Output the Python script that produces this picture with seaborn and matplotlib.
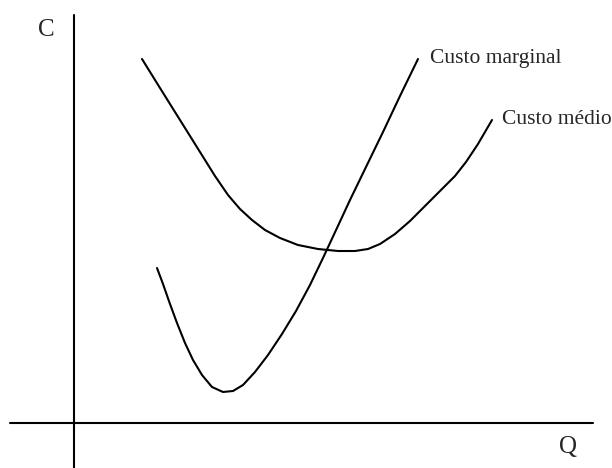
import matplotlib
matplotlib.use('Agg')
import matplotlib.pyplot as plt
import seaborn as sns
import pandas as pd

# Cost curves (Q = quantity, C = cost, arbitrary units)
q_medio = [68, 86, 106, 126, 141, 154, 166, 178, 191, 206, 224, 244, 264, 281, 294, 306, 321, 336, 351, 366, 381, 392, 404, 418]
c_medio = [364, 335, 303, 271, 247, 228, 214, 203, 193, 185, 178, 174, 172, 172, 174, 179, 189, 202, 217, 232, 247, 261, 279, 303]

q_marginal = [83, 89, 96, 103, 111, 119, 128, 138, 149, 159, 169, 181, 194, 208, 222, 236, 249, 263, 276, 292, 309, 326, 344]
c_marginal = [155, 139, 119, 100, 80, 63, 48, 36, 31, 32, 38, 51, 68, 89, 112, 138, 165, 195, 223, 256, 291, 327, 364]

medio = pd.DataFrame({'Q': q_medio, 'C': c_medio})
marginal = pd.DataFrame({'Q': q_marginal, 'C': c_marginal})

sns.set_style('white')
plt.rcParams['font.family'] = ['Liberation Serif', 'DejaVu Serif']

fig = plt.figure(figsize=(6.12, 4.68), dpi=100)
ax = fig.add_axes([0, 0, 1, 1])

sns.lineplot(data=medio, x='Q', y='C', sort=False, estimator=None, color='black', lw=1.5, ax=ax)
sns.lineplot(data=marginal, x='Q', y='C', sort=False, estimator=None, color='black', lw=1.5, ax=ax)

# axes drawn as plain lines, like the hand-made diagram
ax.plot([-64, 519], [0, 0], color='black', lw=1.5)
ax.plot([0, 0], [-45, 408], color='black', lw=1.5)

ax.text(-28, 393, 'C', fontsize=18, ha='center', va='center')
ax.text(494, -24, 'Q', fontsize=18, ha='center', va='center')
ax.text(356, 364, 'Custo marginal', fontsize=15.5, ha='left', va='center')
ax.text(428, 303, 'Custo médio', fontsize=15.5, ha='left', va='center')

ax.set_xlim(-74, 538)
ax.set_ylim(-45, 423)
ax.axis('off')

fig.savefig('out.png', dpi=100)
